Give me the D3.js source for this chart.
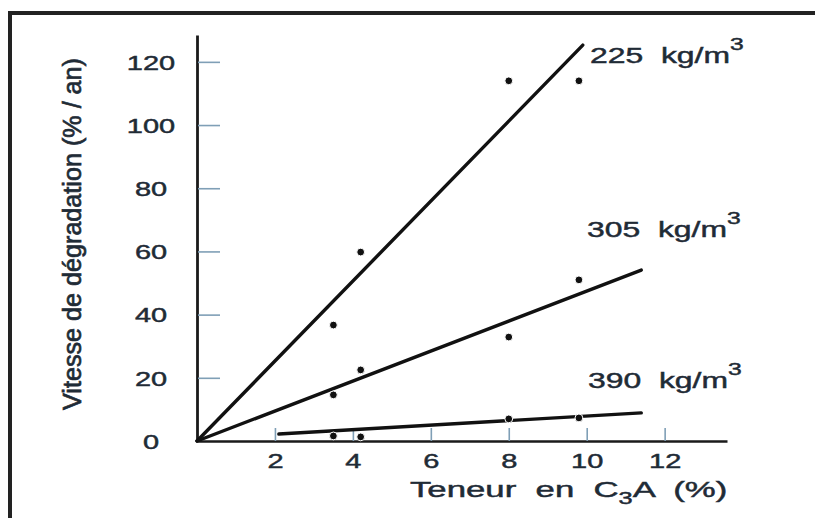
<!DOCTYPE html>
<html>
<head>
<meta charset="utf-8">
<script src="https://cdn.jsdelivr.net/npm/d3@7"></script>
<style>
  html, body { margin: 0; padding: 0; background: #fff; }
  text { font-family: "Liberation Sans", Arial, sans-serif; fill: #1f2b36; stroke: #1f2b36; stroke-width: 0.45px; }
</style>
</head>
<body>
<div id="chart"></div>
<script>
// teneur en C3A (%) des ciments testés
const c3a = [3.5, 4.2, 8, 9.8];
// vitesse de dégradation (% / an) par dosage
const v225 = [36.7, 59.8, 114, 114];
const v305 = [14.6, 22.5, 32.9, 51];
const v390 = [1.6, 1.3, 7, 7.3];
// droites tracées (x, y)
const fit225 = [[0, 0], [9.9, 125.3]];
const fit305 = [[0, 0], [11.4, 54.1]];
const fit390 = [[2.1, 2.2], [11.4, 8.9]];
const xTicks = [2, 4, 6, 8, 10, 12];
const yTicks = [0, 20, 40, 60, 80, 100, 120];
const labels = ["225", "305", "390"];

const width = 815, height = 518;
const sx = 1.45; // texte étiré horizontalement comme sur le scan

const svg = d3.select("#chart").append("svg")
  .attr("width", width).attr("height", height);

// cadre
svg.append("path")
  .attr("d", "M10,530 L10,13 L830,13")
  .attr("fill", "none").attr("stroke", "#222").attr("stroke-width", 4);

const x = d3.scaleLinear().domain([0, 13.6]).range([197, 727]);
const y = d3.scaleLinear().domain([0, 128.5]).range([441, 35]);

// Axe horizontal
const gx = svg.append("g")
  .attr("transform", "translate(0," + y(0) + ")")
  .call(d3.axisBottom(x).tickValues(xTicks).tickSize(-13).tickSizeOuter(0));
gx.select(".domain").attr("stroke", "#1a1a1a").attr("stroke-width", 2.4);
gx.selectAll(".tick line").attr("stroke", "#7f9fb6").attr("stroke-width", 1.6);
gx.selectAll(".tick text")
  .attr("y", 0).attr("dy", 0)
  .attr("transform", "translate(0,27) scale(" + sx + ",1)")
  .attr("font-size", 20);

// Axe vertical
const gy = svg.append("g")
  .attr("transform", "translate(" + x(0) + ",0)")
  .call(d3.axisLeft(y).tickValues(yTicks).tickSizeOuter(0));
gy.select(".domain").attr("stroke", "#1a1a1a").attr("stroke-width", 2.8);
gy.selectAll(".tick line")
  .attr("x1", 1).attr("x2", 23)
  .attr("stroke", "#7f9fb6").attr("stroke-width", 1.6)
  .attr("display", d => d === 0 ? "none" : null);
gy.selectAll(".tick text")
  .attr("x", 0).attr("dy", "0.36em")
  .attr("text-anchor", "middle")
  .attr("transform", "translate(-46,0) scale(" + sx + ",1)")
  .attr("font-size", 20);

// titres des axes
const xt = svg.append("text")
  .attr("transform", "translate(410,497) scale(1.58,1)")
  .attr("font-size", 22)
  .style("white-space", "pre");
xt.append("tspan").text("Teneur  en  C");
xt.append("tspan").attr("font-size", 16).attr("dy", 7).text("3");
xt.append("tspan").attr("dy", -7).text("A  (%)");

svg.append("text")
  .attr("transform", "translate(81,234) rotate(-90) scale(1.48,1.5)")
  .attr("text-anchor", "middle")
  .attr("font-size", 17)
  .text("Vitesse de dégradation (% / an)");

// droites
const line = d3.line().x(d => x(d[0])).y(d => y(d[1]));
svg.append("g").selectAll("path")
  .data([fit225, fit305, fit390])
  .join("path")
    .attr("d", line)
    .attr("fill", "none")
    .attr("stroke", "#111")
    .attr("stroke-width", 3.4)
    .attr("stroke-linecap", "round");

// points
const series = [v225, v305, v390];
svg.append("g").selectAll("g")
  .data(series)
  .join("g")
  .selectAll("circle")
  .data(d => d.map((v, i) => [c3a[i], v]))
  .join("circle")
    .attr("cx", d => x(d[0]))
    .attr("cy", d => y(d[1]))
    .attr("r", 3.9)
    .attr("fill", "#111")
    .attr("stroke", "#fff")
    .attr("stroke-width", 1);

// étiquettes des dosages
const labelPos = [[590, 63], [587, 237], [588, 388]];
labels.forEach((lab, i) => {
  const t = svg.append("text")
    .attr("transform", "translate(" + labelPos[i][0] + "," + labelPos[i][1] + ") scale(" + sx + ",1)")
    .attr("font-size", 22)
    .style("white-space", "pre");
  t.append("tspan").text(lab + "  kg/m");
  t.append("tspan").attr("font-size", 17).attr("dy", -13).text("3");
});
</script>
</body>
</html>
